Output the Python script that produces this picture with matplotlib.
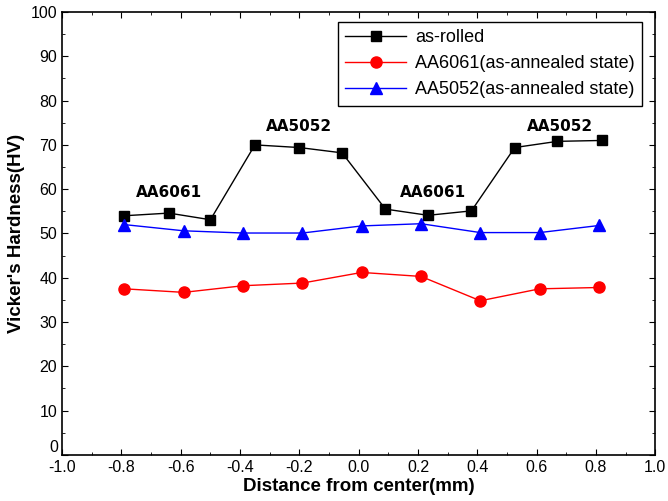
import matplotlib
matplotlib.use("Agg")
import matplotlib.pyplot as plt
import matplotlib.transforms as mtransforms
from matplotlib.ticker import MultipleLocator, FuncFormatter

plt.rcParams['font.family'] = ['Liberation Sans', 'DejaVu Sans']

# as-rolled
x_rolled = [-0.79, -0.64, -0.50, -0.35, -0.20, -0.056, 0.09, 0.234, 0.38, 0.526, 0.67, 0.82]
y_rolled = [54.0, 54.6, 53.1, 70.0, 69.4, 68.2, 55.5, 54.1, 55.1, 69.4, 70.8, 71.0]

# annealed samples
x_ann = [-0.79, -0.59, -0.39, -0.19, 0.01, 0.21, 0.41, 0.61, 0.81]
y_6061 = [37.5, 36.7, 38.2, 38.8, 41.2, 40.3, 34.8, 37.5, 37.8]
y_5052 = [52.0, 50.6, 50.1, 50.1, 51.7, 52.2, 50.2, 50.2, 51.8]

notes = ['AA6061', 'AA5052', 'AA6061', 'AA5052']
note_x = [-0.64, -0.20, 0.25, 0.68]
note_y = [57.5, 72.5, 57.5, 72.5]

fig = plt.figure(figsize=(6.68, 5.01), dpi=100)
ax = fig.add_axes([0.093, 0.092, 0.888, 0.884])

ax.plot(x_rolled, y_rolled, color='black', lw=1, marker='s', ms=7, label='as-rolled')
ax.plot(x_ann, y_6061, color='red', lw=1, marker='o', ms=8, label='AA6061(as-annealed state)')
ax.plot(x_ann, y_5052, color='blue', lw=1, marker='^', ms=8, label='AA5052(as-annealed state)')

for t, xx, yy in zip(notes, note_x, note_y):
    ax.text(xx, yy, t, ha='center', va='bottom', fontsize=11, fontweight='bold',
            family=['DejaVu Sans'])

ax.set_xlim(-1.0, 1.0)
ax.set_ylim(0, 100)
ax.xaxis.set_major_locator(MultipleLocator(0.2))
ax.xaxis.set_minor_locator(MultipleLocator(0.1))
ax.yaxis.set_major_locator(MultipleLocator(10))
ax.yaxis.set_minor_locator(MultipleLocator(5))
ax.xaxis.set_major_formatter(FuncFormatter(lambda v, p: '%.1f' % v))
# the "0" is drawn by hand a bit higher so it clears "-1.0"
ax.yaxis.set_major_formatter(FuncFormatter(lambda v, p: '' if abs(v) < 1e-9 else '%d' % v))
ax.tick_params(which='both', direction='in', top=True, right=True, labelsize=11.5)
ax.tick_params(which='major', length=4)
ax.tick_params(which='minor', length=2)
for s in ax.spines.values():
    s.set_linewidth(1.2)

trans = mtransforms.blended_transform_factory(ax.transAxes, ax.transData)
ax.text(-0.006, 0, '0', transform=trans, ha='right', va='bottom', fontsize=11.5)

ax.set_xlabel('Distance from center(mm)', fontsize=13.5, fontweight='bold', labelpad=2)
ax.set_ylabel("Vicker's Hardness(HV)", fontsize=13.5, fontweight='bold', labelpad=4)

leg = ax.legend(loc='upper right', bbox_to_anchor=(0.978, 0.977), borderaxespad=0,
                fontsize=13, fancybox=False, edgecolor='black', framealpha=1, borderpad=0.4,
                handlelength=3.4, handletextpad=0.5, labelspacing=0.5)
leg.get_frame().set_linewidth(1)

fig.savefig('out.png', dpi=100)
